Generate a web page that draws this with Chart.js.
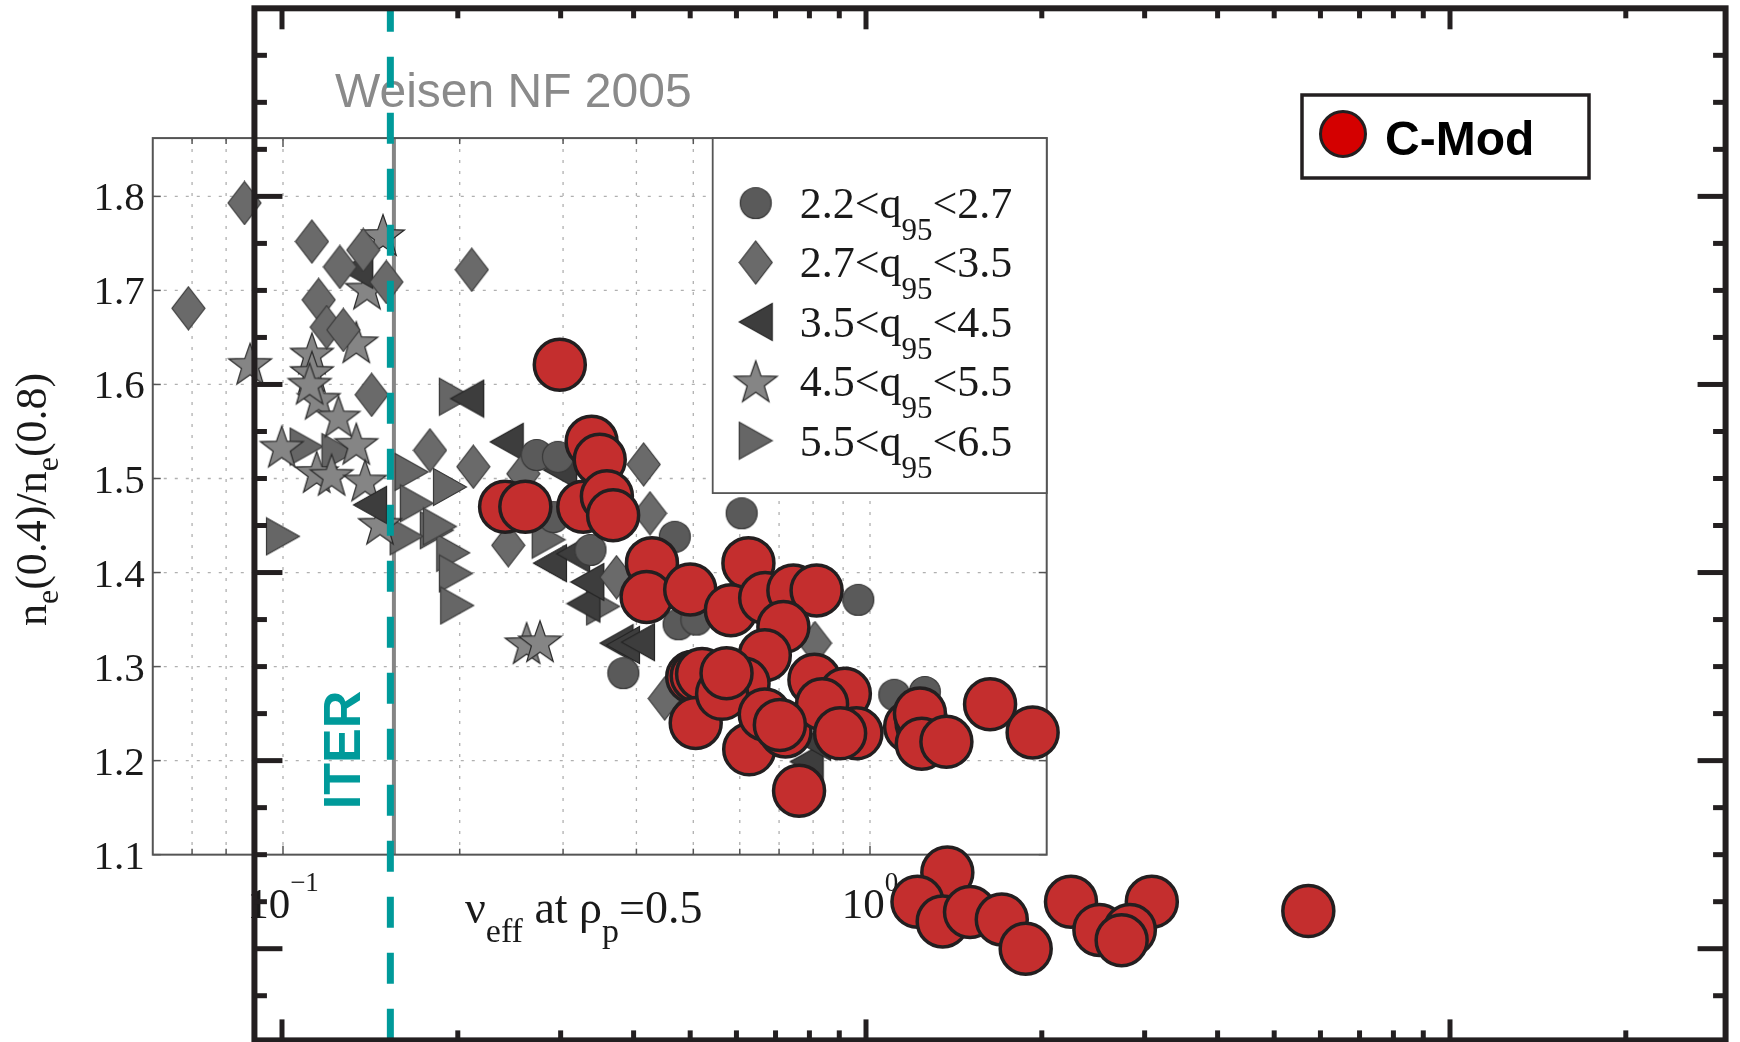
<!DOCTYPE html>
<html>
<head>
<meta charset="utf-8">
<title>Density peaking vs collisionality</title>
<script src="https://cdn.jsdelivr.net/npm/chart.js@4.4.0/dist/chart.umd.min.js"></script>
<style>
  html, body { margin: 0; padding: 0; background: #fff; }
  #wrap { width: 1740px; height: 1042px; }
</style>
</head>
<body>
<div id="wrap"><canvas id="chart" width="1740" height="1042"></canvas></div>
<script>
// C-Mod points: nu_eff and ne(0.4)/ne(0.8)
const cmodNu = [0.299, 0.339, 0.350, 0.241, 0.261, 0.328, 0.360, 0.369, 0.430, 0.421, 0.500, 0.629, 0.587, 0.672, 0.751, 0.823, 0.722, 0.671,
  0.504, 0.513, 0.524, 0.617, 0.816, 0.920, 0.511, 0.631, 0.728, 0.841, 0.963, 0.903, 0.768, 1.19, 1.245, 1.237, 1.246, 1.373, 1.631, 1.929,
  0.567, 0.671, 0.712, 0.577, 1.378, 1.225, 1.353, 1.507, 1.708, 1.877, 2.244, 2.51, 3.086, 2.83, 2.74, 5.72];
const cmodPeak = [1.621, 1.539, 1.520, 1.470, 1.470, 1.470, 1.481, 1.461, 1.410, 1.374, 1.382, 1.410, 1.360, 1.373, 1.381, 1.381, 1.342, 1.312,
  1.289, 1.290, 1.292, 1.282, 1.286, 1.271, 1.240, 1.212, 1.231, 1.260, 1.229, 1.229, 1.168, 1.236, 1.240, 1.250, 1.218, 1.220, 1.260, 1.230,
  1.271, 1.249, 1.238, 1.293, 1.081, 1.050, 1.029, 1.039, 1.031, 1.000, 1.050, 1.020, 1.050, 1.020, 1.009, 1.040];

// Weisen NF 2005 database, one pair of arrays per q95 bin
const q1Nu = [0.2705, 0.294, 0.289, 0.334, 0.465, 0.6045, 0.955, 0.380, 0.472, 0.506, 1.10, 1.24];
const q1Peak = [1.525, 1.523, 1.459, 1.424, 1.438, 1.463, 1.371, 1.293, 1.345, 1.350, 1.270, 1.273];
const q2Nu = [0.086, 0.069, 0.112, 0.125, 0.115, 0.1187, 0.1267, 0.150, 0.2097, 0.1416, 0.178, 0.211, 0.2567, 0.242, 0.4115, 0.422, 0.370, 0.806, 0.447, 0.137];
const q2Peak = [1.793, 1.681, 1.752, 1.725, 1.690, 1.661, 1.658, 1.709, 1.722, 1.589, 1.530, 1.5125, 1.505, 1.429, 1.515, 1.463, 1.395, 1.325, 1.266, 1.743];
const q3Nu = [0.1333, 0.1407, 0.206, 0.2405, 0.2966, 0.285, 0.312, 0.325, 0.370, 0.3795, 0.4025, 0.456, 0.78, 0.803, 0.33];
const q3Peak = [1.722, 1.472, 1.585, 1.539, 1.509, 1.410, 1.420, 1.367, 1.325, 1.323, 1.326, 1.268, 1.199, 1.220, 1.390];
const q4Nu = [0.148, 0.139, 0.1333, 0.0879, 0.112, 0.112, 0.115, 0.1243, 0.111, 0.0995, 0.1141, 0.121, 0.1333, 0.138, 0.1463, 0.260, 0.274];
const q4Peak = [1.759, 1.702, 1.645, 1.622, 1.633, 1.6135, 1.585, 1.566, 1.601, 1.534, 1.507, 1.504, 1.537, 1.498, 1.452, 1.325, 1.327];
const q5Nu = [0.1, 0.1097, 0.1243, 0.1656, 0.1925, 0.1828, 0.1624, 0.195, 0.197, 0.169, 0.197, 0.185, 0.198, 0.2835, 0.351];
const q5Peak = [1.4385, 1.534, 1.528, 1.507, 1.491, 1.445, 1.4385, 1.421, 1.399, 1.4736, 1.587, 1.449, 1.365, 1.435, 1.364];

const q95Edges = ['2.2', '2.7', '3.5', '4.5', '5.5', '6.5'];
const yTickValues = [1.1, 1.2, 1.3, 1.4, 1.5, 1.6, 1.7, 1.8];
const yTickLabels = ['1.1', '1.2', '1.3', '1.4', '1.5', '1.6', '1.7', '1.8'];
const xTickExps = [-1, 0];
const panelGridNu = [0.07, 0.08, 0.09, 0.1, 0.2, 0.3, 0.4, 0.5, 0.6, 0.7, 0.8, 0.9, 1];
const panelNu = [0.06, 2.0];
const panelPeak = [1.1, 1.862];
const frameNu = [0.0897, 29.64];
const framePeak = [0.9025, 2.0];
const iterNu = 0.1533;

const SERIF = '"Liberation Serif", "Times New Roman", serif';
const SANS = '"Liberation Sans", Arial, sans-serif';
const TEAL = '#009a9a';
const INK = '#231f20';

// marker images for the grey symbols
function polyMarker(w, h, pts, fill, stroke) {
  const c = document.createElement('canvas');
  c.width = w; c.height = h;
  const g = c.getContext('2d');
  g.beginPath();
  pts.forEach((p, i) => i ? g.lineTo(p[0], p[1]) : g.moveTo(p[0], p[1]));
  g.closePath();
  g.fillStyle = fill; g.fill();
  g.lineWidth = 1.2; g.strokeStyle = stroke; g.stroke();
  return c;
}
function circleMarker(d, fill, stroke) {
  const c = document.createElement('canvas');
  c.width = d; c.height = d;
  const g = c.getContext('2d');
  g.beginPath(); g.arc(d / 2, d / 2, d / 2 - 1.5, 0, Math.PI * 2);
  g.fillStyle = fill; g.fill();
  g.lineWidth = 1.2; g.strokeStyle = stroke; g.stroke();
  return c;
}
function starPts(cx, cy, ro, ri) {
  const pts = [];
  for (let i = 0; i < 10; i++) {
    const r = i % 2 ? ri : ro;
    const a = -Math.PI / 2 + i * Math.PI / 5;
    pts.push([cx + r * Math.cos(a), cy + r * Math.sin(a)]);
  }
  return pts;
}
const markers = [
  circleMarker(34, '#5a5a5a', '#3a3a3a'),
  polyMarker(35, 45, [[17.5, 1], [34, 22.5], [17.5, 44], [1, 22.5]], '#6a6a6a', '#3a3a3a'),
  polyMarker(36, 40, [[1.5, 20], [34.5, 1.5], [34.5, 38.5]], '#3d3d3d', '#262626'),
  polyMarker(48, 46, starPts(24, 25, 22.5, 9), '#858585', '#2a2a2a'),
  polyMarker(36, 40, [[34.5, 20], [1.5, 1.5], [1.5, 38.5]], '#666666', '#3a3a3a')
];

function zip(xs, ys) { return xs.map((x, i) => ({ x: x, y: ys[i] })); }
function seg(ctx, x1, y1, x2, y2) { ctx.beginPath(); ctx.moveTo(x1, y1); ctx.lineTo(x2, y2); ctx.stroke(); }
function richWidth(ctx, parts) {
  let w = 0;
  parts.forEach(p => { ctx.font = p.font; w += ctx.measureText(p.t).width; });
  return w;
}
function drawRich(ctx, parts, x, y) {
  parts.forEach(p => {
    ctx.font = p.font;
    ctx.fillText(p.t, x, y + (p.dy || 0));
    x += ctx.measureText(p.t).width;
  });
}

// the reproduced Weisen panel: grid, box, labels, legend
const panelPlugin = {
  id: 'weisenPanel',
  beforeDatasetsDraw(chart) {
    const ctx = chart.ctx;
    const xs = chart.scales.xw, ys = chart.scales.y;
    const L = xs.getPixelForValue(panelNu[0]), R = xs.getPixelForValue(panelNu[1]);
    const T = ys.getPixelForValue(panelPeak[1]), B = ys.getPixelForValue(panelPeak[0]);
    ctx.save();

    ctx.strokeStyle = '#b0b0b0'; ctx.lineWidth = 1.3; ctx.setLineDash([3, 8]);
    panelGridNu.forEach(v => { const px = xs.getPixelForValue(v); seg(ctx, px, T, px, B); });
    yTickValues.slice(1).forEach(v => { const py = ys.getPixelForValue(v); seg(ctx, L, py, R, py); });
    ctx.setLineDash([]);

    // ITER line as drawn in the original panel
    const ip = xs.getPixelForValue(iterNu) + 2;
    ctx.strokeStyle = '#858585'; ctx.lineWidth = 4;
    seg(ctx, ip, T, ip, B);

    ctx.strokeStyle = '#555'; ctx.lineWidth = 2;
    ctx.strokeRect(L, T, R - L, B - T);
    ctx.lineWidth = 1.5;
    panelGridNu.forEach(v => {
      const px = xs.getPixelForValue(v), len = (v === 0.1 || v === 1) ? 9 : 6;
      seg(ctx, px, B, px, B - len); seg(ctx, px, T, px, T + len);
    });
    yTickValues.forEach(v => {
      const py = ys.getPixelForValue(v);
      seg(ctx, L, py, L + 8, py); seg(ctx, R, py, R - 8, py);
    });

    ctx.fillStyle = '#1a1a1a';
    ctx.textBaseline = 'alphabetic';
    ctx.textAlign = 'right';
    ctx.font = '41px ' + SERIF;
    yTickValues.forEach((v, i) => ctx.fillText(yTickLabels[i], L - 8, ys.getPixelForValue(v) + 14));

    ctx.textAlign = 'left';
    xTickExps.forEach(e => {
      const parts = [
        { t: '10', font: '43px ' + SERIF },
        { t: e < 0 ? '\u2212' + (-e) : String(e), font: '27px ' + SERIF, dy: -27 }
      ];
      const w = richWidth(ctx, parts);
      drawRich(ctx, parts, xs.getPixelForValue(Math.pow(10, e)) - w / 2, B + 63);
    });

    // x title
    drawRich(ctx, [
      { t: '\u03bd', font: '46px ' + SERIF },
      { t: 'eff', font: '34px ' + SERIF, dy: 19 },
      { t: ' at \u03c1', font: '46px ' + SERIF },
      { t: 'p', font: '34px ' + SERIF, dy: 19 },
      { t: '=0.5', font: '46px ' + SERIF }
    ], 465, B + 68);

    // y title
    const yParts = [
      { t: 'n', font: '44px ' + SERIF },
      { t: 'e', font: '32px ' + SERIF, dy: 12 },
      { t: '(0.4)/n', font: '44px ' + SERIF },
      { t: 'e', font: '32px ' + SERIF, dy: 12 },
      { t: '(0.8)', font: '44px ' + SERIF }
    ];
    ctx.save();
    ctx.translate(46, (T + B) / 2 + 3);
    ctx.rotate(-Math.PI / 2);
    drawRich(ctx, yParts, -richWidth(ctx, yParts) / 2, 0);
    ctx.restore();

    // legend of the panel
    const lgL = R - 334, lgT = T, lgB = T + 355;
    ctx.fillStyle = '#fff';
    ctx.fillRect(lgL, lgT, R - lgL, lgB - lgT);
    ctx.strokeStyle = '#555'; ctx.lineWidth = 1.8;
    ctx.strokeRect(lgL, lgT, R - lgL, lgB - lgT);
    ctx.fillStyle = '#1a1a1a';
    markers.forEach((m, i) => {
      const cy = lgT + 65 + i * 59.4;
      ctx.drawImage(m, lgL + 43 - m.width / 2, cy - m.height / 2);
      drawRich(ctx, [
        { t: q95Edges[i] + '<q', font: '44px ' + SERIF },
        { t: '95', font: '31px ' + SERIF, dy: 22 },
        { t: '<' + q95Edges[i + 1], font: '44px ' + SERIF }
      ], lgL + 87, cy + 15);
    });

    ctx.fillStyle = '#8a8a8a';
    ctx.font = '48px ' + SANS;
    ctx.fillText('Weisen NF 2005', 335, 107);
    ctx.restore();
  },

  afterDatasetsDraw(chart) {
    const ctx = chart.ctx;
    const xs = chart.scales.x, ys = chart.scales.y;
    const L = xs.getPixelForValue(frameNu[0]), R = xs.getPixelForValue(frameNu[1]);
    const T = ys.getPixelForValue(framePeak[1]), B = ys.getPixelForValue(framePeak[0]);
    ctx.save();

    // ITER dashed line
    const ix = xs.getPixelForValue(iterNu);
    ctx.strokeStyle = TEAL; ctx.lineWidth = 7;
    ctx.setLineDash([31, 25]); ctx.lineDashOffset = 7.6;
    seg(ctx, ix, T, ix, B);
    ctx.setLineDash([]);

    ctx.save();
    ctx.translate(ix - 30, 750);
    ctx.rotate(-Math.PI / 2);
    ctx.fillStyle = TEAL; ctx.font = 'bold 52px ' + SANS;
    ctx.textAlign = 'center'; ctx.textBaseline = 'alphabetic';
    ctx.fillText('ITER', 0, 0);
    ctx.restore();

    // outer frame with inward ticks
    ctx.strokeStyle = INK; ctx.lineWidth = 6;
    ctx.strokeRect(L, T, R - L, B - T);
    ctx.lineWidth = 5;
    [0.1, 1, 10].forEach(dec => {
      for (let k = 1; k <= 9; k++) {
        const px = xs.getPixelForValue(k * dec);
        if (px < L + 6 || px > R - 6) continue;
        const len = k === 1 ? 21 : 10;
        seg(ctx, px, T, px, T + len);
        seg(ctx, px, B, px, B - len);
      }
    });
    for (let n = 19; n <= 39; n++) {
      const py = ys.getPixelForValue(n * 0.05);
      const len = n % 4 === 0 ? 28 : 12.5;
      seg(ctx, L, py, L + len, py);
      seg(ctx, R, py, R - len, py);
    }

    // C-Mod legend
    ctx.fillStyle = '#fff';
    ctx.fillRect(1302, 95, 287, 83);
    ctx.lineWidth = 3.5;
    ctx.strokeRect(1302, 95, 287, 83);
    ctx.beginPath(); ctx.arc(1343, 134, 22.5, 0, Math.PI * 2);
    ctx.fillStyle = '#d40000'; ctx.fill();
    ctx.lineWidth = 3; ctx.stroke();
    ctx.fillStyle = '#000'; ctx.font = 'bold 48px ' + SANS;
    ctx.textAlign = 'left'; ctx.textBaseline = 'alphabetic';
    ctx.fillText('C-Mod', 1385, 155);
    ctx.restore();
  }
};

const greySets = [[q1Nu, q1Peak], [q2Nu, q2Peak], [q3Nu, q3Peak], [q4Nu, q4Peak], [q5Nu, q5Peak]];

const datasets = [{
  label: 'C-Mod',
  data: zip(cmodNu, cmodPeak),
  xAxisID: 'x', yAxisID: 'y',
  pointStyle: 'circle', pointRadius: 25.5,
  backgroundColor: '#c42e2e', borderColor: INK, borderWidth: 3.5,
  clip: false
}];
greySets.forEach((s, i) => {
  datasets.push({
    label: q95Edges[i] + '<q95<' + q95Edges[i + 1],
    data: zip(s[0], s[1]),
    xAxisID: 'xw', yAxisID: 'y',
    pointStyle: markers[i], pointRadius: 16,
    clip: false
  });
});

new Chart(document.getElementById('chart').getContext('2d'), {
  type: 'scatter',
  data: { datasets: datasets },
  options: {
    responsive: false,
    animation: false,
    devicePixelRatio: 1,
    events: [],
    layout: { padding: 0, autoPadding: false },
    plugins: { legend: { display: false }, tooltip: { enabled: false } },
    scales: {
      x: { type: 'logarithmic', display: false, min: Math.pow(10, -1.48288), max: Math.pow(10, 1.49658) },
      xw: { type: 'logarithmic', axis: 'x', display: false, min: Math.pow(10, -1.48211), max: Math.pow(10, 1.48211) },
      y: { type: 'linear', display: false, min: 0.90079, max: 2.00883 }
    }
  },
  plugins: [panelPlugin]
});
</script>
</body>
</html>
